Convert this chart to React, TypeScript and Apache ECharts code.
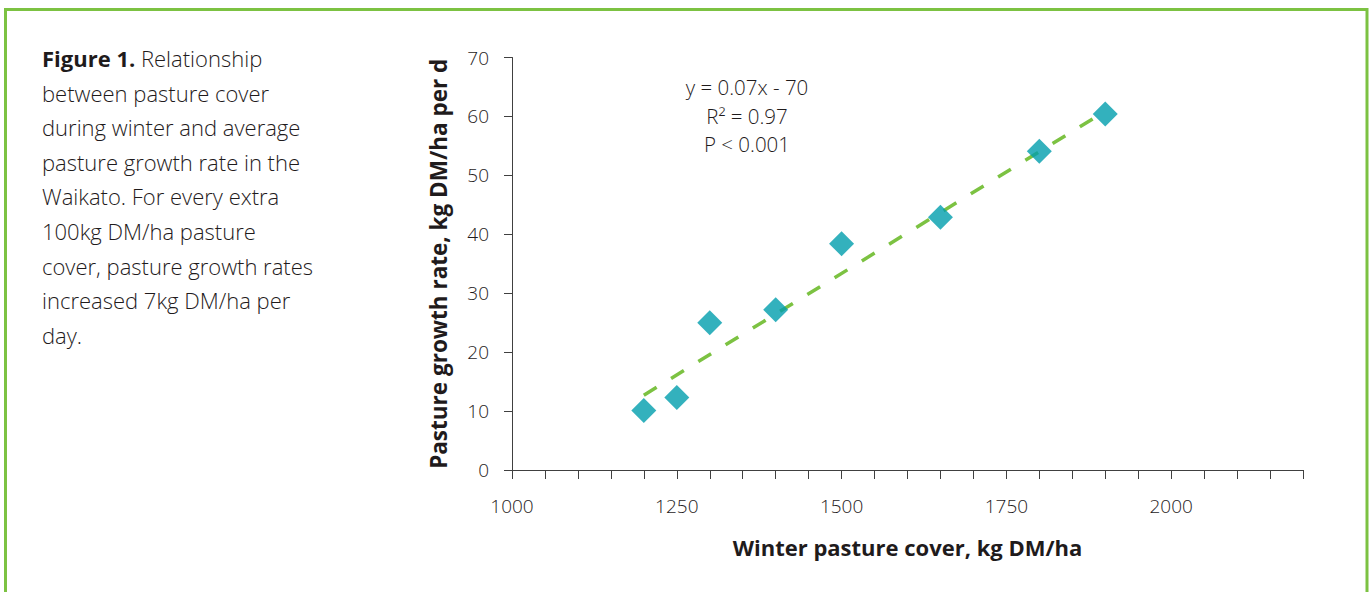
import React, { useEffect, useRef } from "react";
import * as echarts from "echarts";

const coverX = [1200, 1250, 1300, 1400, 1500, 1650, 1800, 1900];
const growthY = [10.1, 12.3, 25.0, 27.2, 38.4, 42.9, 54.1, 60.4];
const trendX = [1200, 1900];
const trendY = [12.7, 60.9];
const xLabels = [1000, 1250, 1500, 1750, 2000];
const equationLines = ["y = 0.07x - 70", "R² = 0.97", "P < 0.001"];
const captionLines = [
  "Relationship",
  "between pasture cover",
  "during winter and average",
  "pasture growth rate in the",
  "Waikato. For every extra",
  "100kg DM/ha pasture",
  "cover, pasture growth rates",
  "increased 7kg DM/ha per",
  "day.",
];

const FONT = "'Open Sans', 'Noto Sans', sans-serif";
const TEXT = "#1f1b1c";
const GREEN = "#7cc242";
const TEAL = "#009dac";
const W = 350;

export default function App() {
  const ref = useRef<HTMLDivElement>(null);
  useEffect(() => {
    if (!ref.current) return;
    const chart = echarts.init(ref.current, null, { renderer: "svg" });
    const caption: any[] = captionLines.map((line, i) => ({
      type: "text",
      x: 42,
      y: 58 + i * 34.6,
      style: {
        text: i === 0 ? "{b|Figure 1.} " + line : line,
        font: `${W} 22px ${FONT}`,
        fill: TEXT,
        verticalAlign: "middle",
        rich: { b: { fontWeight: "bold", fontSize: 22, fontFamily: FONT, fill: TEXT } },
      },
    }));
    const eq: any[] = equationLines.map((line, i) => ({
      type: "text",
      x: 747,
      y: 87 + i * 28.7,
      style: {
        text: line,
        font: `${W} 20.5px ${FONT}`,
        fill: TEXT,
        align: "center",
        verticalAlign: "middle",
      },
    }));
    chart.setOption({
      animation: false,
      grid: { left: 512, top: 57.5, right: 67, bottom: 122, containLabel: false },
      xAxis: {
        type: "value",
        min: 1000,
        max: 2200,
        interval: 50,
        name: "Winter pasture cover, kg DM/ha",
        nameLocation: "middle",
        nameGap: 66,
        nameTextStyle: { fontFamily: FONT, fontWeight: "bold", fontSize: 22, color: TEXT },
        axisLine: { lineStyle: { color: "#404040", width: 1 } },
        axisTick: { length: 9, lineStyle: { color: "#404040" } },
        splitLine: { show: false },
        axisLabel: {
          margin: 26,
          fontFamily: FONT,
          fontWeight: W,
          fontSize: 19,
          color: TEXT,
          formatter: (v: number) => (xLabels.includes(v) ? String(v) : ""),
        },
      },
      yAxis: {
        type: "value",
        min: 0,
        max: 70,
        interval: 10,
        name: "Pasture growth rate, kg DM/ha per d",
        nameLocation: "middle",
        nameGap: 62,
        nameTextStyle: { fontFamily: FONT, fontWeight: "bold", fontSize: 22.5, color: TEXT },
        axisLine: { show: true, lineStyle: { color: "#404040", width: 1 } },
        axisTick: { show: true, length: 8, lineStyle: { color: "#404040" } },
        splitLine: { show: false },
        axisLabel: { margin: 23, fontFamily: FONT, fontWeight: W, fontSize: 19, color: TEXT },
      },
      series: [
        {
          type: "line",
          data: trendX.map((x, i) => [x, trendY[i]]),
          showSymbol: false,
          symbol: "none",
          lineStyle: { color: GREEN, width: 3.5, type: [15, 17], cap: "butt" },
          z: 1,
        },
        {
          type: "scatter",
          data: coverX.map((x, i) => [x, growthY[i]]),
          symbol: "diamond",
          symbolSize: [25, 25],
          itemStyle: { color: TEAL },
          z: 2,
        },
      ],
      graphic: [
        {
          type: "rect",
          shape: { x: 5.5, y: 9.5, width: 1361.5, height: 620 },
          style: { fill: "none", stroke: GREEN, lineWidth: 3 },
          silent: true,
        },
        ...caption,
        ...eq,
      ],
    });
    return () => chart.dispose();
  }, []);
  return (
    <div
      ref={ref}
      style={{ position: "absolute", left: 0, top: 0, width: 1370, height: 592, background: "#fff" }}
    />
  );
}
